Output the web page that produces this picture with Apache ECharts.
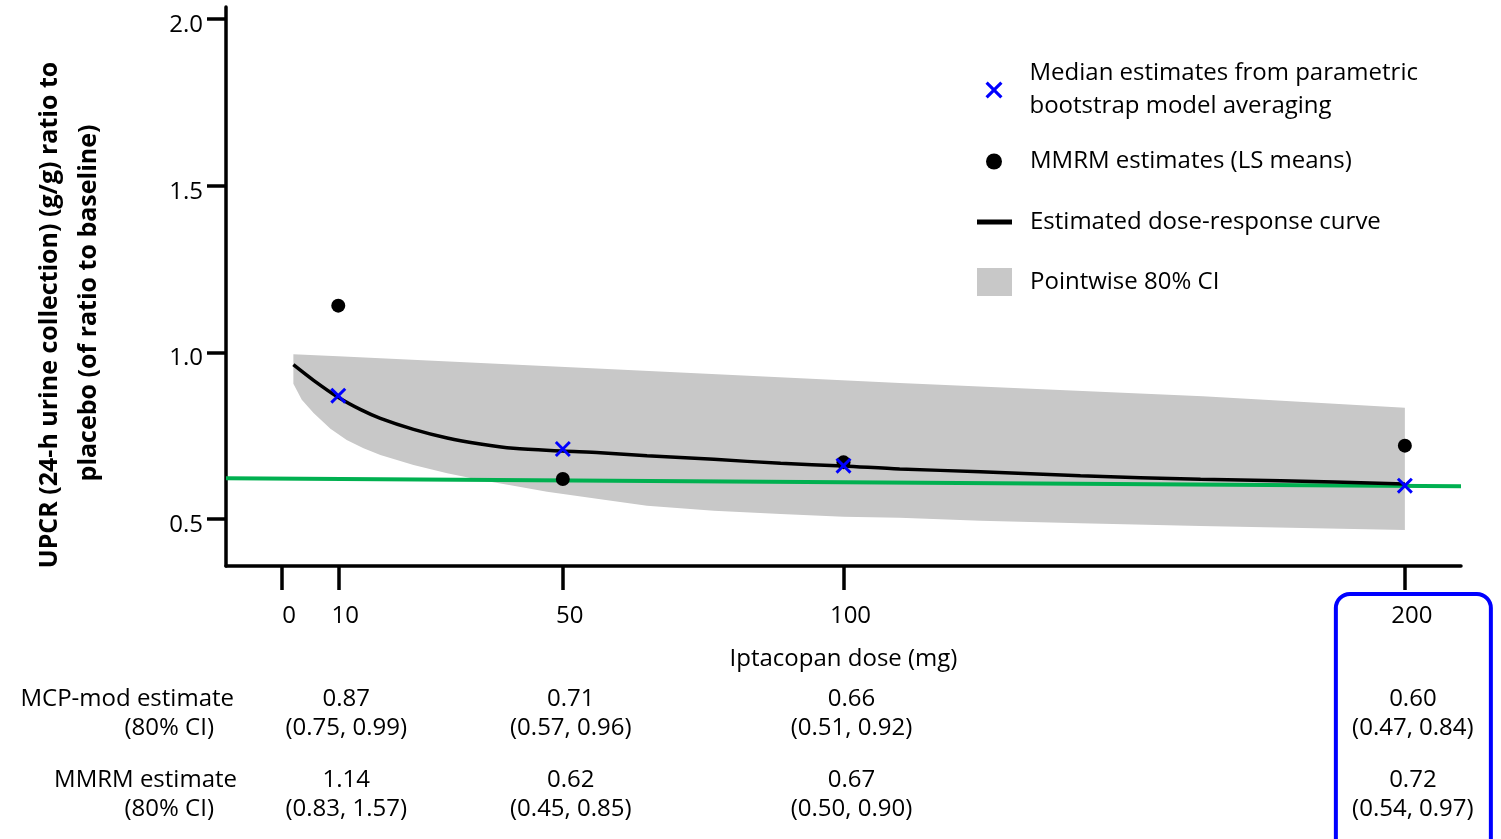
<!DOCTYPE html>
<html>
<head>
<meta charset="utf-8">
<script src="https://cdn.jsdelivr.net/npm/echarts@6.0.0/dist/echarts.min.js"></script>
<style>
html,body{margin:0;padding:0;background:#fff;}
#chart{width:1501px;height:839px;}
</style>
</head>
<body>
<div id="chart"></div>
<script>
// ---- Data ----
const doses = [10, 50, 100, 200];
const medianEst = [0.87, 0.71, 0.66, 0.60];
const mmrmEst = [1.14, 0.62, 0.67, 0.72];
const mcpLo = [0.75, 0.57, 0.51, 0.47];
const mcpHi = [0.99, 0.96, 0.92, 0.84];
const mmrmLo = [0.83, 0.45, 0.50, 0.54];
const mmrmHi = [1.57, 0.85, 0.90, 0.97];

const curveDose = [2, 5.6, 9.9, 14, 17.5, 23.4, 29.4, 35.3, 41.2, 50, 56.7, 65, 76.9, 88.8, 100, 110, 124.4, 142.2, 163.6, 177.9, 200];
const curveVal  = [0.963, 0.916, 0.866, 0.828, 0.802, 0.769, 0.743, 0.725, 0.712, 0.704, 0.699, 0.690, 0.679, 0.667, 0.659, 0.650, 0.642, 0.630, 0.619, 0.615, 0.605];

const bandUpperDose = [2, 10, 57, 110, 164, 200];
const bandUpperVal  = [0.994, 0.988, 0.951, 0.908, 0.868, 0.834];
const bandLowerDose = [2, 3.5, 5.6, 8.6, 11.5, 14.5, 17.5, 23.4, 29.4, 35.3, 41.2, 47.2, 56.7, 65, 76.9, 88.8, 100, 110, 124.4, 142.2, 163.6, 200];
const bandLowerVal  = [0.906, 0.858, 0.818, 0.771, 0.737, 0.712, 0.692, 0.662, 0.637, 0.617, 0.600, 0.582, 0.559, 0.540, 0.525, 0.515, 0.507, 0.504, 0.495, 0.487, 0.479, 0.467];

const refDose = [-10, 210];
const refVal  = [0.622, 0.598];

const xTicks = [0, 10, 50, 100, 200];
const yTicks = [0.5, 1.0, 1.5, 2.0];

const NAME_MED = 'Median estimates from parametric\nbootstrap model averaging';
const NAME_MMRM = 'MMRM estimates (LS means)';
const NAME_CURVE = 'Estimated dose-response curve';
const NAME_CI = 'Pointwise 80% CI';

const FONT = 'Open Sans';
const FS = 24;
const xPath = 'path://M0,1.3 L1.3,0 L5,3.7 L8.7,0 L10,1.3 L6.3,5 L10,8.7 L8.7,10 L5,6.3 L1.3,10 L0,8.7 L3.7,5 Z';

const chart = echarts.init(document.getElementById('chart'));

const legendText = {fontFamily: FONT, fontSize: FS, color: '#000', lineHeight: 33};

const option = {
  animation: false,
  textStyle: {fontFamily: FONT},
  grid: {left: 226, right: 40, top: 7, bottom: 273},
  xAxis: {
    type: 'value', min: -10, max: 210,
    axisLine: {show: true, onZero: false, lineStyle: {color: '#000', width: 3.5}},
    axisTick: {show: true, length: 24, lineStyle: {color: '#000', width: 3.5}, customValues: xTicks},
    axisLabel: {customValues: xTicks, margin: 38, fontSize: FS, color: '#000', fontFamily: FONT, padding: [0, 0, 0, 14]},
    splitLine: {show: false},
    name: 'Iptacopan dose (mg)', nameLocation: 'middle', nameGap: 81,
    nameTextStyle: {fontSize: FS, color: '#000', fontFamily: FONT}
  },
  yAxis: {
    type: 'value', min: 0.359, max: 2.036,
    axisLine: {show: true, onZero: false, lineStyle: {color: '#000', width: 3.5}},
    axisTick: {show: true, length: 19, lineStyle: {color: '#000', width: 3.5}, customValues: yTicks},
    axisLabel: {customValues: yTicks, margin: 23, color: '#000',
      formatter: v => '{a|' + v.toFixed(1) + '}',
      rich: {a: {fontSize: FS, fontFamily: FONT, color: '#000', padding: [12, 0, 0, 0]}}},
    splitLine: {show: false}
  },
  legend: [
    {data: [{name: NAME_MED, icon: xPath}], left: 980.5, top: 52, orient: 'vertical', itemWidth: 17, itemHeight: 17,
      selectedMode: false, textStyle: Object.assign({padding: [0, 0, 0, 22]}, legendText)},
    {data: [{name: NAME_MMRM, icon: 'circle'}], left: 981, top: 140, itemWidth: 16, itemHeight: 16,
      selectedMode: false, textStyle: Object.assign({padding: [0, 0, 0, 23]}, legendText)},
    {data: [{name: NAME_CURVE, icon: 'rect'}], left: 972, top: 200.5, itemWidth: 35, itemHeight: 5,
      selectedMode: false, textStyle: Object.assign({padding: [0, 0, 0, 13]}, legendText)},
    {data: [{name: NAME_CI, icon: 'rect'}], left: 972, top: 260.5, itemWidth: 35, itemHeight: 28,
      selectedMode: false, textStyle: Object.assign({padding: [0, 0, 0, 13]}, legendText)}
  ],
  series: [
    {
      name: NAME_CI, type: 'custom', itemStyle: {color: '#c8c8c8'},
      data: [[bandUpperDose[0], bandUpperVal[0]]],
      renderItem: function (params, api) {
        const pts = [];
        for (let i = 0; i < bandUpperDose.length; i++) pts.push(api.coord([bandUpperDose[i], bandUpperVal[i]]));
        for (let i = bandLowerDose.length - 1; i >= 0; i--) pts.push(api.coord([bandLowerDose[i], bandLowerVal[i]]));
        return {type: 'polygon', shape: {points: pts}, style: {fill: '#c8c8c8'}};
      },
      z: 1
    },
    {
      name: 'reference', type: 'line', data: refDose.map((d, i) => [d, refVal[i]]),
      showSymbol: false, symbol: 'none', lineStyle: {color: '#00b050', width: 4}, itemStyle: {color: '#00b050'}, z: 2
    },
    {
      name: NAME_CURVE, type: 'line', data: curveDose.map((d, i) => [d, curveVal[i]]),
      smooth: 0.3, symbol: 'none', lineStyle: {color: '#000', width: 3.5}, itemStyle: {color: '#000'}, z: 3
    },
    {
      name: NAME_MMRM, type: 'scatter', data: doses.map((d, i) => [d, mmrmEst[i]]),
      symbol: 'circle', symbolSize: 14, itemStyle: {color: '#000', opacity: 1}, z: 4
    },
    {
      name: NAME_MED, type: 'scatter', data: doses.map((d, i) => [d, medianEst[i]]),
      symbol: xPath, symbolSize: 16, itemStyle: {color: '#0000ff', opacity: 1}, z: 5
    }
  ]
};
chart.setOption(option);

// ---- Table and annotations ----
const tfont = {fontFamily: FONT, fontSize: FS, fill: '#000'};
const g = [];
function txt(x, y, s, align) {
  g.push({type: 'text', x: x, y: y, style: Object.assign({text: s, align: align || 'center', verticalAlign: 'middle'}, tfont)});
}
txt(234, 699, 'MCP-mod estimate', 'right');
txt(214, 728, '(80% CI)', 'right');
txt(237, 780, 'MMRM estimate', 'right');
txt(214, 809, '(80% CI)', 'right');
doses.forEach((d, i) => {
  const cx = chart.convertToPixel({xAxisIndex: 0}, d) + 8;
  txt(cx, 699, medianEst[i].toFixed(2));
  txt(cx, 728, '(' + mcpLo[i].toFixed(2) + ', ' + mcpHi[i].toFixed(2) + ')');
  txt(cx, 780, mmrmEst[i].toFixed(2));
  txt(cx, 809, '(' + mmrmLo[i].toFixed(2) + ', ' + mmrmHi[i].toFixed(2) + ')');
});
const x200 = chart.convertToPixel({xAxisIndex: 0}, 200);
g.push({type: 'rect', shape: {x: x200 - 69, y: 594, width: 155, height: 262, r: 14},
  style: {fill: 'none', stroke: '#0000ff', lineWidth: 4}});
// Y-axis title (two centred lines, rotated)
g.push({type: 'text', x: 50, y: 315, rotation: Math.PI / 2,
  style: {text: 'UPCR (24-h urine collection) (g/g) ratio to', align: 'center', verticalAlign: 'middle', fontFamily: FONT, fontSize: 25, fontWeight: 'bold', fill: '#000'}});
g.push({type: 'text', x: 89, y: 303, rotation: Math.PI / 2,
  style: {text: 'placebo (of ratio to baseline)', align: 'center', verticalAlign: 'middle', fontFamily: FONT, fontSize: 25, fontWeight: 'bold', fill: '#000'}});
chart.setOption({graphic: g});
</script>
</body>
</html>
